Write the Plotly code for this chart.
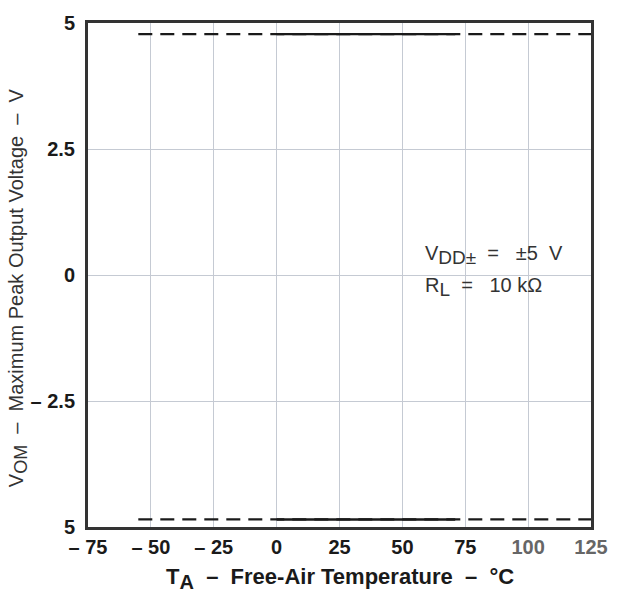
import plotly.graph_objects as go

# Data
temp_dashed = [-55, 125]
vom_pos_dashed = [4.78, 4.78]
vom_neg_dashed = [-4.85, -4.85]
temp_solid = [0, 71]
vom_pos_solid = [4.78, 4.78]
vom_neg_solid = [-4.85, -4.85]

x_ticks = [-75, -50, -25, 0, 25, 50, 75, 100, 125]
x_ticktext = ["– 75", "– 50", "– 25", "0", "25", "50", "75",
              "<span style='color:#666'>100</span>", "<span style='color:#666'>125</span>"]
y_ticks = [5, 2.5, 0, -2.5, -5]
y_ticktext = ["5", "2.5", "0", "– 2.5", "5"]

dark = "#1a1a1a"
fig = go.Figure()
for y in (vom_pos_dashed, vom_neg_dashed):
    fig.add_trace(go.Scatter(x=temp_dashed, y=y, mode="lines",
                             line=dict(color=dark, width=2.2, dash="14px,8px"),
                             showlegend=False, hoverinfo="skip"))
for y in (vom_pos_solid, vom_neg_solid):
    fig.add_trace(go.Scatter(x=temp_solid, y=y, mode="lines",
                             line=dict(color=dark, width=2.4),
                             showlegend=False, hoverinfo="skip"))

font_family = "Liberation Sans, Arial, sans-serif"
fig.update_layout(
    width=620, height=596,
    margin=dict(l=88, r=20, t=16, b=69),
    plot_bgcolor="white", paper_bgcolor="white",
    font=dict(family=font_family, color=dark),
    xaxis=dict(range=[-75, 125], tickvals=x_ticks, ticktext=x_ticktext,
               showgrid=True, gridcolor="#c5cad3", gridwidth=1,
               zeroline=False, showline=True, linecolor="#333", linewidth=3,
               mirror=True, ticks="", ticklabelstandoff=0,
               tickfont=dict(size=20, family=font_family, weight="bold", color=dark)),
    yaxis=dict(range=[-5, 5], tickvals=y_ticks, ticktext=y_ticktext,
               showgrid=True, gridcolor="#c5cad3", gridwidth=1,
               zeroline=False, showline=True, linecolor="#333", linewidth=3,
               mirror=True, ticks="", ticklabelstandoff=6,
               tickfont=dict(size=20, family=font_family, weight="bold", color=dark)),
    annotations=[
        dict(text="T<sub><span style='font-size:20px'>A</span></sub>  –  Free-Air Temperature  –  °C",
             xref="paper", yref="paper",
             x=0.5, y=-0.07, yanchor="top", showarrow=False,
             font=dict(size=22, family=font_family, weight="bold", color=dark)),
        dict(text="V<sub><span style='font-size:18px'>OM</span></sub>"
             + "  –  Maximum Peak Output Voltage  –  V",
             xref="paper", yref="paper",
             x=-0.14, xanchor="center", y=0.475, textangle=-90, showarrow=False,
             font=dict(size=20, family=font_family, color="#333")),
        dict(text="V<sub><span style='font-size:19px'>DD±</span></sub>  =   ±5  V",
             xref="x", yref="y", x=58, y=0.39,
             xanchor="left", showarrow=False,
             font=dict(size=20, family=font_family, color="#333")),
        dict(text="R<sub><span style='font-size:19px'>L</span></sub>  =   10 kΩ",
             xref="x", yref="y", x=58, y=-0.235,
             xanchor="left", showarrow=False,
             font=dict(size=20, family=font_family, color="#333")),
    ],
)
fig.write_html("out.html")
